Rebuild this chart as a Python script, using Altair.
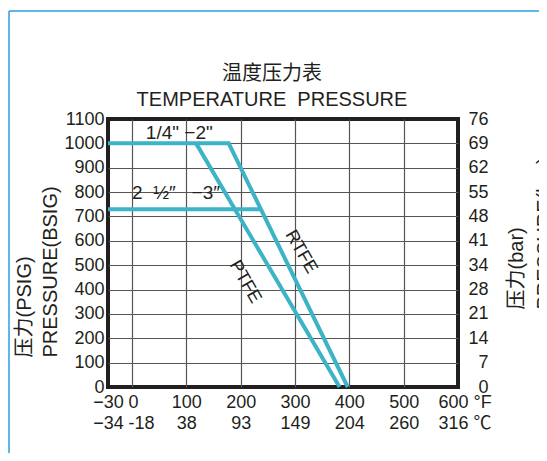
import altair as alt
import pandas as pd

FONT = "Liberation Sans, Noto Sans CJK SC"
INK = "#231f20"
TEAL = "#3db3c6"
GRID = "#555555"
NB = "\u00a0"

# --- data (°F vs PSIG) ---
rtfe_temp = [-30, 178, 397]
rtfe_psi = [1000, 1000, 0]
ptfe_temp = [118, 382]
ptfe_psi = [1000, 0]
size_temp = [-30, 236]
size_psi = [730, 730]

f_ticks = [-30, 0, 100, 200, 300, 400, 500, 600]
f_labels = ["−30", "0", "100", "200", "300", "400", "500", "600 °F"]
c_labels = ["−34", "-18", "38", "93", "149", "204", "260", "316 ℃"]
psi_ticks = [0, 100, 200, 300, 400, 500, 600, 700, 800, 900, 1000, 1100]
bar_labels = ["0", "7", "14", "21", "28", "34", "41", "48", "55", "62", "69", "76"]

note_text = ['1/4"' + NB + '−2"', "2" + NB + NB + "½″" + NB + NB + NB + "−3″"]
note_temp = [87, 81]
note_psi = [1043, 796]
rot_text = ["RTFE", "PTFE"]
rot_temp = [311, 208]
rot_psi = [554, 431]

rows = []
for name, ts, ps in [("rtfe", rtfe_temp, rtfe_psi), ("ptfe", ptfe_temp, ptfe_psi), ("size", size_temp, size_psi)]:
    for i, (t, p) in enumerate(zip(ts, ps)):
        rows.append({"series": name, "ord": i, "temp": t, "psi": p})
df = pd.DataFrame(rows)
notes = pd.DataFrame({"text": note_text, "temp": note_temp, "psi": note_psi})
rots = pd.DataFrame({"text": rot_text, "temp": rot_temp, "psi": rot_psi})


def idx(vals):
    return "indexof([" + ",".join(str(v) for v in vals) + "], datum.value)"


def arr(strs):
    return "[" + ",".join("'" + s + "'" for s in strs) + "]"


x_expr = f"[{arr(f_labels)}[{idx(f_ticks)}], {arr(c_labels)}[{idx(f_ticks)}]]"
bar_expr = f"{arr(bar_labels)}[{idx(psi_ticks)}]"

xscale = alt.Scale(domain=[-30, 0, 600], range=[0, 24, 350])
yscale = alt.Scale(domain=[0, 1100], nice=False, zero=True)

x_axis = alt.Axis(
    values=f_ticks, labelExpr=x_expr, title=None, grid=True, gridColor=GRID, gridWidth=1.2,
    gridOpacity={"condition": {"test": "datum.value == -30 || datum.value == 600", "value": 0}, "value": 1},
    ticks=False, tickSize=0, domain=False, labelFont=FONT, labelFontSize=18, labelColor=INK,
    labelPadding=6, labelLineHeight=21, labelFlush=False, labelOverlap=False, labelBound=False,
    labelBaseline="top",
    labelAlign={"condition": {"test": "datum.value == 0 || datum.value == 600", "value": "left"}, "value": "center"},
    labelOffset={"condition": [
        {"test": "datum.value == 0", "value": -4},
        {"test": "datum.value == 600", "value": -20},
    ], "value": 0},
)
y_axis = alt.Axis(
    values=psi_ticks, format="d", title=["压力(PSIG)", "PRESSURE(BSIG)"], titleFont=FONT, titleFontSize=20,
    titleFontWeight="normal", titleColor=INK, titleAngle=270, titleAlign="left", titleBaseline="middle",
    titleX=-84, titleY=238, titleLineHeight=26,
    labelFont=FONT, labelFontSize=18, labelColor=INK, labelPadding=4, ticks=False, tickSize=0,
    domain=False, grid=True, gridColor=GRID, gridWidth=1.2, labelFlush=False, labelOverlap=False,
    gridOpacity={"condition": {"test": "datum.value == 0 || datum.value == 1100", "value": 0}, "value": 1},
)
r_axis = alt.Axis(
    orient="right", values=psi_ticks, labelExpr=bar_expr, labelAlign="right", labelPadding=30,
    title=["压力(bar)", "PRESSURE(bar)"], titleFont=FONT, titleFontSize=20, titleFontWeight="normal",
    titleColor=INK, titleAngle=270, titleAlign="left", titleBaseline="middle", titleX=58, titleY=190,
    titleLineHeight=28, labelFont=FONT, labelFontSize=18, labelColor=INK, ticks=False, tickSize=0,
    domain=False, grid=False, labelFlush=False, labelOverlap=False,
)

X = alt.X("temp:Q", scale=xscale, axis=x_axis)
Y = alt.Y("psi:Q", scale=yscale, axis=y_axis)

lines = alt.Chart(df).mark_line(color=TEAL, strokeWidth=4, strokeCap="butt", strokeJoin="miter").encode(
    x=X, y=Y, detail="series:N", order="ord:Q",
)

note_layer = alt.Chart(notes).mark_text(font=FONT, fontSize=19, color=INK).encode(
    x=X, y=Y, text="text:N",
)
rot_layer = alt.Chart(rots).mark_text(font=FONT, fontSize=18, color=INK, angle=60).encode(
    x=X, y=Y, text="text:N",
)

one = pd.DataFrame({"a": [0]})
border_left = alt.Chart(one).mark_rule(color="#2a9fdf", strokeWidth=1.5).encode(
    x=alt.value(-99), y=alt.value(-108), y2=alt.value(360)
)
border_top = alt.Chart(one).mark_rule(color="#2a9fdf", strokeWidth=1.5).encode(
    x=alt.value(-99), x2=alt.value(440), y=alt.value(-108)
)

right = alt.Chart(df).mark_line(opacity=0).encode(
    x=X,
    y=alt.Y("psi:Q", scale=yscale, axis=r_axis),
    detail="series:N",
)

inner = alt.layer(lines, note_layer, rot_layer, border_left, border_top)

chart = alt.layer(inner, right).resolve_scale(y="independent").properties(
    width=350,
    height=268,
    autosize=alt.AutoSizeParams(type="none"),
    padding={"left": 100, "top": 111, "right": 81, "bottom": 66},
    title=alt.TitleParams(
        text=["温度压力表", "TEMPERATURE" + NB + " PRESSURE"], font=FONT, fontSize=20, fontWeight="normal",
        color=INK, lineHeight=26, anchor="middle", frame="group", dx=-11, offset=-100,
    ),
).configure(background="white").configure_view(stroke=INK, strokeWidth=4)

chart.save("out.html", embed_options={"renderer": "svg", "actions": False})
